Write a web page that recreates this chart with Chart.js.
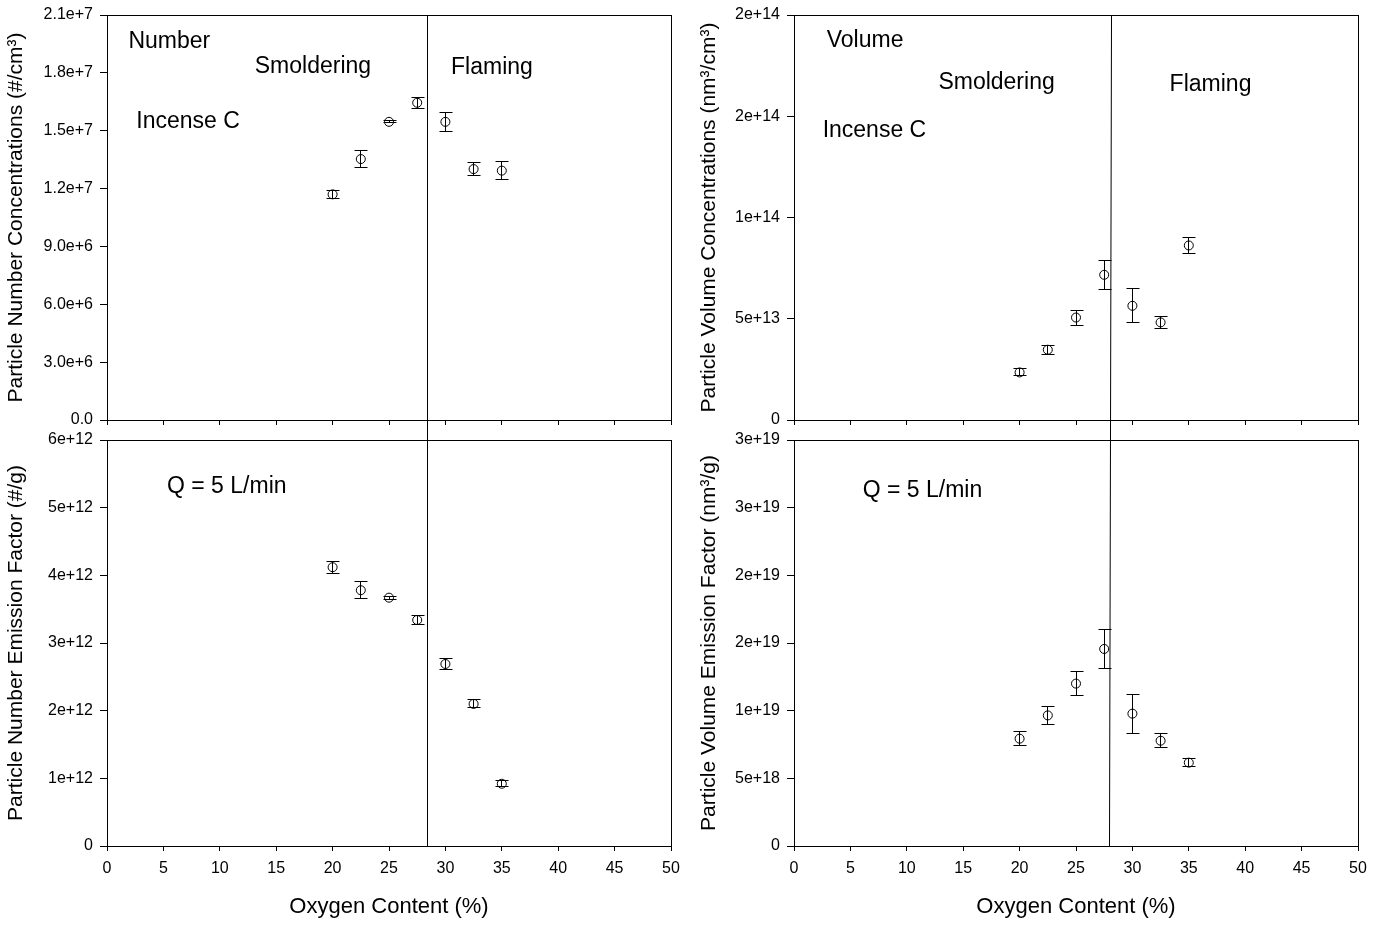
<!DOCTYPE html>
<html>
<head>
  <title>Incense C - particle number and volume vs oxygen content</title>
  <script src="https://cdn.jsdelivr.net/npm/chart.js"></script>
  <style>
    body { margin: 0; background: #fff; }
    canvas { position: absolute; }
  </style>
</head>
<body>
  <canvas id="numConc" width="690" height="430" style="left:0;top:0"></canvas>
  <canvas id="volConc" width="695" height="430" style="left:690px;top:0"></canvas>
  <canvas id="numEF" width="690" height="496" style="left:0;top:430px"></canvas>
  <canvas id="volEF" width="695" height="496" style="left:690px;top:430px"></canvas>

  <script>
    // oxygen content (%) of each test
    const oxygen = [20, 22.5, 25, 27.5, 30, 32.5, 35];

    // means and error bar half-lengths
    const numConc = [11.70e6, 13.53e6, 15.46e6, 16.45e6, 15.46e6, 13.01e6, 12.93e6];
    const numConcErr = [0.22e6, 0.44e6, 0.05e6, 0.29e6, 0.50e6, 0.32e6, 0.47e6];
    const volConc = [2.35e13, 3.47e13, 5.06e13, 7.17e13, 5.64e13, 4.82e13, 8.62e13];
    const volConcErr = [0.17e13, 0.23e13, 0.37e13, 0.72e13, 0.84e13, 0.31e13, 0.38e13];
    const numEF = [4.12e12, 3.78e12, 3.67e12, 3.34e12, 2.69e12, 2.10e12, 0.92e12];
    const numEFErr = [0.09e12, 0.125e12, 0.02e12, 0.06e12, 0.085e12, 0.06e12, 0.045e12];
    const volEF = [7.93e18, 9.65e18, 12.0e18, 14.56e18, 9.78e18, 7.78e18, 6.16e18];
    const volEFErr = [0.53e18, 0.68e18, 0.90e18, 1.45e18, 1.45e18, 0.52e18, 0.27e18];

    // tick values and the labels printed for them
    const xTicks = [0, 5, 10, 15, 20, 25, 30, 35, 40, 45, 50];
    const xTickLabels = ['0', '5', '10', '15', '20', '25', '30', '35', '40', '45', '50'];
    const numConcTicks = [0, 3e6, 6e6, 9e6, 12e6, 15e6, 18e6, 21e6];
    const numConcLabels = ['0.0', '3.0e+6', '6.0e+6', '9.0e+6', '1.2e+7', '1.5e+7', '1.8e+7', '2.1e+7'];
    const volConcTicks = [0, 5e13, 1e14, 1.5e14, 2e14];
    const volConcLabels = ['0', '5e+13', '1e+14', '2e+14', '2e+14'];
    const numEFTicks = [0, 1e12, 2e12, 3e12, 4e12, 5e12, 6e12];
    const numEFLabels = ['0', '1e+12', '2e+12', '3e+12', '4e+12', '5e+12', '6e+12'];
    const volEFTicks = [0, 5e18, 1e19, 1.5e19, 2e19, 2.5e19, 3e19];
    const volEFLabels = ['0', '5e+18', '1e+19', '2e+19', '2e+19', '3e+19', '3e+19'];

    // smoldering / flaming boundary: oxygen % at top and bottom edge of each panel
    const dividerLeft = [28.4, 28.4];
    const dividerRightTop = [28.15, 28.05];
    const dividerRightBottom = [28.05, 27.95];

    Chart.defaults.font.family = 'Arial, "Liberation Sans", sans-serif';
    Chart.defaults.color = '#000';

    const align = v => Math.round(v - 0.5) + 0.5;

    const panelPlugin = {
      id: 'panel',
      afterDatasetsDraw(chart, args, opts) {
        const { ctx, chartArea: a, scales: { x, y } } = chart;
        ctx.save();
        ctx.strokeStyle = '#000';
        ctx.lineWidth = 1;

        // error bars with caps
        chart.data.datasets.forEach(ds => {
          if (!ds.errors) return;
          ds.data.forEach((p, i) => {
            const px = align(x.getPixelForValue(p.x));
            const hi = align(y.getPixelForValue(p.y + ds.errors[i]));
            const lo = align(y.getPixelForValue(p.y - ds.errors[i]));
            ctx.beginPath();
            ctx.moveTo(px, hi); ctx.lineTo(px, lo);
            ctx.moveTo(px - 6, hi); ctx.lineTo(px + 7, hi);
            ctx.moveTo(px - 6, lo); ctx.lineTo(px + 7, lo);
            ctx.stroke();
          });
        });

        // box round the plot
        ctx.strokeRect(align(a.left), align(a.top), Math.round(a.width), Math.round(a.height));

        // boundary line, carried on through the gap between panels
        const pTop = x.getPixelForValue(opts.divider[0]);
        const pBot = x.getPixelForValue(opts.divider[1]);
        const at = yy => pTop + (pBot - pTop) * (yy - a.top) / (a.bottom - a.top);
        const y0 = opts.extendUp ? 0 : a.top;
        const y1 = opts.extendDown ? chart.height : a.bottom;
        ctx.beginPath();
        ctx.moveTo(align(at(y0)), y0);
        ctx.lineTo(align(at(y1)), y1);
        ctx.stroke();

        // text notes placed in data units
        ctx.fillStyle = '#000';
        ctx.font = '23px Arial, "Liberation Sans", sans-serif';
        ctx.textAlign = 'left';
        ctx.textBaseline = 'middle';
        opts.notes.forEach(n => {
          ctx.fillText(n.text, x.getPixelForValue(n.x), y.getPixelForValue(n.y));
        });
        ctx.restore();
      }
    };

    function makePanel(id, cfg) {
      return new Chart(document.getElementById(id), {
        type: 'scatter',
        data: {
          datasets: [{
            data: oxygen.map((o, i) => ({ x: o, y: cfg.values[i] })),
            errors: cfg.errors,
            pointStyle: 'circle',
            pointRadius: 4.5,
            pointHoverRadius: 4.5,
            borderColor: '#000',
            backgroundColor: 'rgba(0,0,0,0)',
            borderWidth: 1
          }]
        },
        options: {
          responsive: false,
          animation: false,
          devicePixelRatio: 1,
          layout: { padding: { top: cfg.padTop, right: cfg.padRight, left: 0, bottom: 0 } },
          plugins: {
            legend: { display: false },
            tooltip: { enabled: false },
            panel: {
              divider: cfg.divider,
              extendUp: cfg.bottomRow,
              extendDown: !cfg.bottomRow,
              notes: cfg.notes
            }
          },
          scales: {
            x: {
              type: 'linear',
              min: 0,
              max: 50,
              afterBuildTicks: s => { s.ticks = xTicks.map(v => ({ value: v })); },
              afterFit: s => { s.height = cfg.bottomRow ? 80 : 10; },
              ticks: {
                display: cfg.bottomRow,
                callback: (v, i) => xTickLabels[i],
                maxRotation: 0,
                padding: 8,
                font: { size: 16 }
              },
              grid: { drawOnChartArea: false, drawTicks: true, tickLength: 5, color: '#000' },
              border: { display: true, color: '#000', width: 1 },
              title: {
                display: cfg.bottomRow,
                text: 'Oxygen Content (%)',
                font: { size: 22 },
                padding: { top: 0, bottom: 6 }
              }
            },
            y: {
              type: 'linear',
              min: cfg.ticks[0],
              max: cfg.ticks[cfg.ticks.length - 1],
              afterBuildTicks: s => { s.ticks = cfg.ticks.map(v => ({ value: v })); },
              afterFit: s => {
                s.width = cfg.axisWidth;
                s.paddingTop = 0;
                s.paddingBottom = 0;
              },
              ticks: {
                callback: (v, i) => cfg.labels[i],
                padding: 7,
                font: { size: 16 }
              },
              grid: { drawOnChartArea: false, drawTicks: true, tickLength: 7, color: '#000' },
              border: { display: true, color: '#000', width: 1 },
              title: {
                display: true,
                text: cfg.title,
                font: { size: 21 },
                padding: { top: cfg.titlePad, bottom: 0 }
              }
            }
          }
        },
        plugins: [panelPlugin]
      });
    }

    makePanel('numConc', {
      values: numConc, errors: numConcErr,
      ticks: numConcTicks, labels: numConcLabels,
      title: 'Particle Number Concentrations (#/cm³)',
      divider: dividerLeft, bottomRow: false,
      padTop: 15, padRight: 19, axisWidth: 107, titlePad: 4,
      notes: [
        { text: 'Number', x: 1.9, y: 19.6e6 },
        { text: 'Smoldering', x: 13.1, y: 18.3e6 },
        { text: 'Flaming', x: 30.5, y: 18.25e6 },
        { text: 'Incense C', x: 2.6, y: 15.45e6 }
      ]
    });

    makePanel('volConc', {
      values: volConc, errors: volConcErr,
      ticks: volConcTicks, labels: volConcLabels,
      title: 'Particle Volume Concentrations (nm³/cm³)',
      divider: dividerRightTop, bottomRow: false,
      padTop: 15, padRight: 27, axisWidth: 104, titlePad: 7,
      notes: [
        { text: 'Volume', x: 2.9, y: 18.71e13 },
        { text: 'Smoldering', x: 12.8, y: 16.64e13 },
        { text: 'Flaming', x: 33.3, y: 16.54e13 },
        { text: 'Incense C', x: 2.54, y: 14.27e13 }
      ]
    });

    makePanel('numEF', {
      values: numEF, errors: numEFErr,
      ticks: numEFTicks, labels: numEFLabels,
      title: 'Particle Number Emission Factor (#/g)',
      divider: dividerLeft, bottomRow: true,
      padTop: 10, padRight: 19, axisWidth: 107, titlePad: 4,
      notes: [
        { text: 'Q = 5 L/min', x: 5.32, y: 5.31e12 }
      ]
    });

    makePanel('volEF', {
      values: volEF, errors: volEFErr,
      ticks: volEFTicks, labels: volEFLabels,
      title: 'Particle Volume Emission Factor (nm³/g)',
      divider: dividerRightBottom, bottomRow: true,
      padTop: 10, padRight: 27, axisWidth: 104, titlePad: 7,
      notes: [
        { text: 'Q = 5 L/min', x: 6.09, y: 26.26e18 }
      ]
    });
  </script>
</body>
</html>
